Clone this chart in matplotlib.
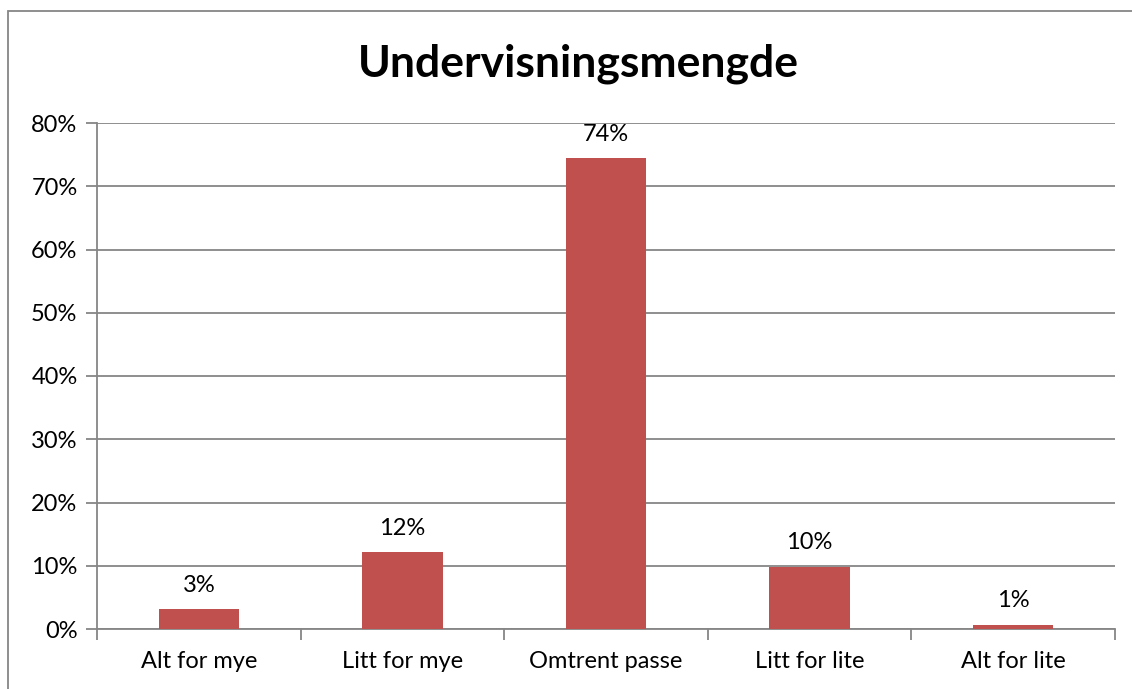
import matplotlib.pyplot as plt
from matplotlib.patches import Rectangle

categories = ['Alt for mye', 'Litt for mye', 'Omtrent passe', 'Litt for lite', 'Alt for lite']
values = [3.1, 12.1, 74.4, 9.8, 0.7]
labels = ['3%', '12%', '74%', '10%', '1%']
yticks = [0, 10, 20, 30, 40, 50, 60, 70, 80]

plt.rcParams['font.family'] = ['Lato', 'DejaVu Sans']
grey = '#868686'

fig = plt.figure(figsize=(11.32, 6.89), dpi=100)
ax = fig.add_axes([97 / 1132, 1 - 629 / 689, (1115 - 97) / 1132, (629 - 123) / 689])

# chart border (left/top visible, rest cropped)
fig.patches.append(Rectangle((8 / 1132, -0.1), 1.2, 1 - 11 / 689 + 0.1,
                             transform=fig.transFigure, fill=False,
                             edgecolor=grey, linewidth=1.3))

x = list(range(len(categories)))
ax.bar(x, values, width=0.395, color='#C0504D', zorder=3)
for xi, v, lab in zip(x, values, labels):
    ax.annotate(lab, (xi, v), xytext=(0, 10), textcoords='offset points',
                ha='center', va='bottom', fontsize=17, zorder=4)

ax.set_ylim(0, 80)
ax.set_xlim(-0.5, 4.5)
ax.set_yticks(yticks)
ax.set_yticklabels([f'{t}%' for t in yticks])
ax.yaxis.grid(True, color=grey, linewidth=1.3, zorder=0)
ax.set_xticks([i - 0.5 for i in range(len(categories) + 1)])
ax.set_xticklabels([])
ax.set_xticks(x, minor=True)
ax.set_xticklabels(categories, minor=True)
ax.tick_params(axis='x', which='minor', length=0, labelsize=17, pad=16)
ax.tick_params(axis='x', which='major', length=8, color=grey, width=1.3)
ax.tick_params(axis='y', length=8, color=grey, width=1.3, labelsize=17, pad=6)
for s in ['top', 'right']:
    ax.spines[s].set_visible(False)
for s in ['left', 'bottom']:
    ax.spines[s].set_color(grey)
    ax.spines[s].set_linewidth(1.3)

fig.text(578 / 1132, 1 - 64 / 689, 'Undervisningsmengde', ha='center', va='center',
         fontsize=32, fontweight='bold')

fig.savefig('out.png', dpi=100)
